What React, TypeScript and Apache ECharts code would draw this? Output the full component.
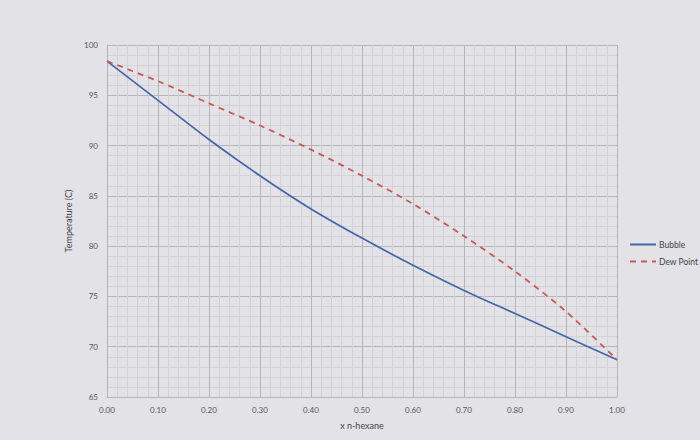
import React, { useEffect, useRef } from "react";
import * as echarts from "echarts";

const xValues = [0, 0.1, 0.2, 0.3, 0.4, 0.5, 0.6, 0.7, 0.8, 0.9, 1.0];
const bubbleT = [98.4, 94.5, 90.6, 87.0, 83.7, 80.8, 78.1, 75.6, 73.3, 71.0, 68.7];
const dewT = [98.4, 96.4, 94.2, 92.0, 89.6, 87.0, 84.2, 81.0, 77.5, 73.5, 68.7];
const seriesNames = ["Bubble", "Dew Point"];

const FONT = "Lato, 'Open Sans', sans-serif";

export default function App() {
  const ref = useRef<HTMLDivElement>(null);
  useEffect(() => {
    if (!ref.current) return;
    const chart = echarts.init(ref.current, undefined, { renderer: "svg" });
    chart.setOption({
      animation: false,
      backgroundColor: "#e2e2e7",
      textStyle: { fontFamily: FONT },
      grid: { left: 107, top: 45, width: 510, height: 352, containLabel: false },
      legend: {
        orient: "vertical",
        left: 624,
        top: 235,
        itemWidth: 26,
        itemHeight: 6,
        itemGap: 8,
        itemStyle: { opacity: 0 },
        textStyle: { fontSize: 8.5, color: "#444", fontFamily: FONT, padding: [0, 0, 0, -2] },
        data: seriesNames,
      },
      xAxis: {
        type: "value",
        min: 0,
        max: 1,
        interval: 0.1,
        name: "x n-hexane",
        nameLocation: "middle",
        nameGap: 24,
        nameTextStyle: { fontSize: 9, color: "#444" },
        axisLine: { show: true, lineStyle: { color: "#b5b5ba" } },
        axisTick: { show: false },
        axisLabel: {
          fontSize: 8,
          color: "#555",
          margin: 9,
          formatter: (v: number) => v.toFixed(2),
        },
        splitLine: { show: true, lineStyle: { color: "#b5b5ba", width: 1 } },
        minorTick: { show: false, splitNumber: 5 },
        minorSplitLine: { show: true, lineStyle: { color: "#d2d2d7", width: 1 } },
      },
      yAxis: {
        type: "value",
        min: 65,
        max: 100,
        interval: 5,
        name: "Temperature (C)",
        nameLocation: "middle",
        nameGap: 32,
        nameTextStyle: { fontSize: 9, color: "#444" },
        axisLine: { show: true, lineStyle: { color: "#b5b5ba" } },
        axisTick: { show: false },
        axisLabel: { fontSize: 8, color: "#555", margin: 9 },
        splitLine: { show: true, lineStyle: { color: "#b5b5ba", width: 1 } },
        minorTick: { show: false, splitNumber: 5 },
        minorSplitLine: { show: true, lineStyle: { color: "#d2d2d7", width: 1 } },
      },
      series: [
        {
          name: seriesNames[0],
          type: "line",
          smooth: 0.3,
          showSymbol: false,
          symbol: "none",
          data: xValues.map((x, i) => [x, bubbleT[i]]),
          lineStyle: { color: "#4467aa", width: 1.7 },
          itemStyle: { color: "#4467aa" },
        },
        {
          name: seriesNames[1],
          type: "line",
          smooth: 0.3,
          showSymbol: false,
          symbol: "none",
          data: xValues.map((x, i) => [x, dewT[i]]),
          lineStyle: { color: "#c65a55", width: 1.8, type: [6, 5] },
          itemStyle: { color: "#c65a55" },
        },
      ],
    });
    return () => chart.dispose();
  }, []);
  return (
    <div
      ref={ref}
      style={{ position: "fixed", left: 0, top: 0, width: 700, height: 440 }}
    />
  );
}
